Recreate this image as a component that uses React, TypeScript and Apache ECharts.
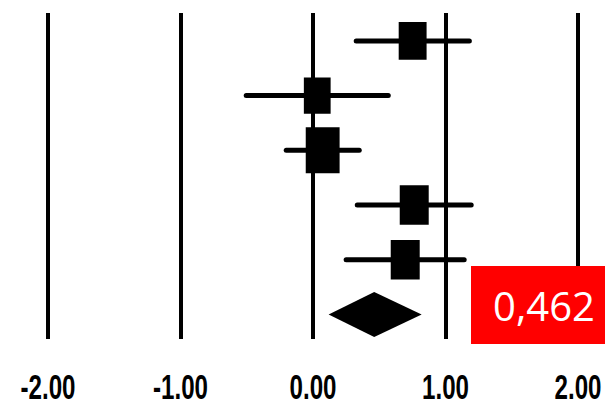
import React, { useEffect, useRef } from "react";
import * as echarts from "echarts";

// Study rows (top to bottom)
const rows = [1, 2, 3, 4, 5];
const estimates = [0.752, 0.032, 0.073, 0.764, 0.696];
const lowerCI = [0.326, -0.504, -0.202, 0.334, 0.25];
const upperCI = [1.18, 0.568, 0.349, 1.194, 1.141];
const weights = [19, 17.5, 28, 20.5, 20.5];

// Pooled estimate (diamond)
const pooledRow = 6;
const pooledEstimate = 0.462;
const pooledLower = 0.118;
const pooledUpper = 0.82;

// Axis ticks
const xTicks = [-2, -1, 0, 1, 2];
const xTickLabels = ["-2.00", "-1.00", "0.00", "1.00", "2.00"];

const Y_MIN = 0.49;
const Y_MAX = 6.45;

export default function App() {
  const ref = useRef<HTMLDivElement>(null);

  useEffect(() => {
    if (!ref.current) return;
    const chart = echarts.init(ref.current, undefined, { renderer: "svg" });

    const studyData = rows.map((r, i) => [lowerCI[i], estimates[i], upperCI[i], r, weights[i]]);
    const pooledData = [[pooledLower, pooledEstimate, pooledUpper, pooledRow]];

    chart.setOption({
      animation: false,
      backgroundColor: "#ffffff",
      grid: { left: 48, right: 27, top: 13, bottom: 66, outerBoundsMode: "none" },
      xAxis: {
        type: "value",
        min: xTicks[0],
        max: xTicks[xTicks.length - 1],
        interval: 1,
        axisLine: { show: false },
        axisTick: { show: false },
        splitLine: { show: true, lineStyle: { color: "#000000", width: 4 } },
        axisLabel: { show: false },
      },
      yAxis: {
        type: "value",
        min: Y_MIN,
        max: Y_MAX,
        inverse: true,
        show: false,
        splitLine: { show: false },
      },
      series: [
        {
          type: "custom",
          data: studyData,
          encode: { x: [0, 1, 2], y: 3 },
          renderItem: (params: any, api: any) => {
            const lo = api.value(0);
            const est = api.value(1);
            const hi = api.value(2);
            const row = api.value(3);
            const w = api.value(4);
            const pLo = api.coord([lo, row]);
            const pHi = api.coord([hi, row]);
            const pE = api.coord([est, row]);
            const side = Math.sqrt(w) * 6.4;
            const h = side * 1.36;
            return {
              type: "group",
              children: [
                {
                  type: "line",
                  shape: { x1: pLo[0], y1: pLo[1], x2: pHi[0], y2: pHi[1] },
                  style: { stroke: "#000000", lineWidth: 5, lineCap: "round" },
                },
                {
                  type: "rect",
                  shape: { x: pE[0] - side / 2, y: pE[1] - h / 2, width: side, height: h },
                  style: { fill: "#000000" },
                },
              ],
            };
          },
        },
        {
          type: "custom",
          data: pooledData,
          encode: { x: [0, 1, 2], y: 3 },
          renderItem: (params: any, api: any) => {
            const lo = api.value(0);
            const est = api.value(1);
            const hi = api.value(2);
            const row = api.value(3);
            const pLo = api.coord([lo, row]);
            const pHi = api.coord([hi, row]);
            const pE = api.coord([est, row]);
            const half = 22.5;
            return {
              type: "polygon",
              shape: {
                points: [
                  [pLo[0], pLo[1]],
                  [pE[0], pE[1] - half],
                  [pHi[0], pHi[1]],
                  [pE[0], pE[1] + half],
                ],
              },
              style: { fill: "#000000" },
            };
          },
        },
      ],
    });

    // Tick labels placed through the axis scale (narrow, bold look)
    const bottomY = chart.convertToPixel({ yAxisIndex: 0 }, Y_MAX) as number;
    const tickGraphics = xTicks.map((v, i) => ({
      id: "tick" + i,
      type: "text",
      x: chart.convertToPixel({ xAxisIndex: 0 }, v) as number,
      y: bottomY + 48,
      scaleX: 0.69,
      style: {
        text: xTickLabels[i],
        fill: "#000000",
        fontFamily: "'Liberation Sans', Arial, sans-serif",
        fontWeight: "bold",
        fontSize: 35,
        lineHeight: 35,
        align: "center",
        verticalAlign: "middle",
      },
    }));

    chart.setOption({
      graphic: [
        ...tickGraphics,
        {
          id: "redbox",
          type: "rect",
          left: 471,
          top: 266,
          shape: { width: 134, height: 78 },
          style: { fill: "#ff0000" },
          z: 10,
        },
        {
          id: "redtext",
          type: "text",
          x: 544,
          y: 305,
          z: 11,
          style: {
            text: pooledEstimate.toFixed(3).replace(".", ","),
            fill: "#ffffff",
            fontFamily: "'Open Sans', sans-serif",
            fontSize: 40,
            align: "center",
            verticalAlign: "middle",
          },
        },
      ],
    });

    return () => chart.dispose();
  }, []);

  return (
    <div
      ref={ref}
      style={{ position: "fixed", left: 0, top: 0, width: 605, height: 405 }}
    />
  );
}
